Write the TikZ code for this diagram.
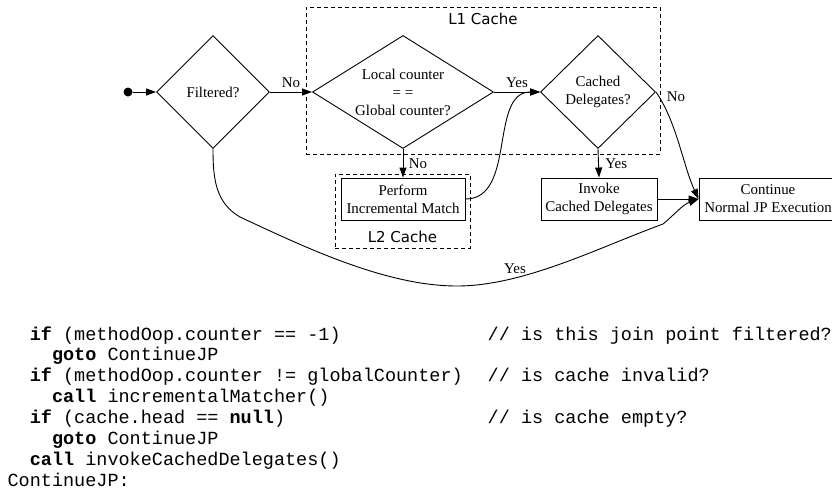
\documentclass[tikz,border=0pt]{standalone}
\usepackage{fontspec}
\setmainfont{Liberation Serif}
\setmonofont{Liberation Mono}
\newfontfamily\cachefont{DejaVu Sans}
\usetikzlibrary{shapes.geometric,arrows.meta}
\newcommand\dtext{\fontsize{14.9}{18}\selectfont}
\newcommand\codefont{\ttfamily\fontsize{18.5}{21}\selectfont}
\tikzset{
  dia/.style={diamond, draw, line width=0.9pt, inner sep=0pt, align=center, font=\dtext},
  procbox/.style={rectangle, draw, line width=0.9pt, inner sep=0pt, align=center, font=\dtext, minimum height=42pt},
  grp/.style={rectangle, draw, line width=0.9pt, dash pattern=on 4pt off 3pt},
  grplbl/.style={font=\cachefont\fontsize{15}{18}\selectfont, inner sep=0pt},
  lbl/.style={font=\dtext, inner sep=1.5pt},
  arr/.style={-{Triangle[length=10pt,width=7pt]}, line width=0.9pt},
  codeline/.style={anchor=base west, inner sep=0pt, font=\codefont},
}
\begin{document}
\begin{tikzpicture}[x=1pt,y=-1pt]
\useasboundingbox (0,0) rectangle (832,493);
% groups
\node[grp, minimum width=354pt, minimum height=147pt] (l1) at (483,80.5) {};
\node[grplbl] (l1lbl) at (483,18.5) {L1 Cache};
\node[grp, minimum width=135pt, minimum height=74pt] (l2) at (402.5,211) {};
\node[grplbl] (l2lbl) at (402.5,236.5) {L2 Cache};
% nodes
\node[circle, fill, inner sep=0pt, minimum size=9pt] (dot) at (128,92) {};
\node[dia, minimum width=113pt, minimum height=113pt] (filt) at (213,92) {Filtered?};
\node[dia, aspect=1.6, minimum width=181pt, minimum height=113pt] (loc) at (403,92) {Local counter\\= =\\Global counter?};
\node[dia, minimum width=115pt, minimum height=113pt] (cach) at (598,92) {Cached\\Delegates?};
\node[procbox, minimum width=124pt] (perf) at (403,199) {Perform\\Incremental Match};
\node[procbox, minimum width=116pt] (inv) at (599,199) {Invoke\\Cached Delegates};
\node[procbox, minimum width=138pt] (cont) at (768,199) {Continue\\Normal JP Execution};
\coordinate (b1) at (240,217);
\coordinate (ybot) at (457,286);
\coordinate (b2) at (663,224);
% connectors
\draw[arr] (dot) -- (filt.west);
\draw[arr] (filt.east) -- node[lbl, above, yshift=2pt] {No} (loc.west);
\draw[arr] (loc.east) -- node[lbl, above, yshift=2pt] {Yes} (cach.west);
\draw[arr] (loc.south) -- node[lbl, right, xshift=4pt] {No} (perf.north);
\draw[arr] (cach.south) -- node[lbl, right, xshift=5pt] {Yes} (inv.north);
\draw[arr] (perf.east) to[out=0,in=180] (cach.west);
\draw[arr] (cach.east) to[out=-55,in=115,looseness=0.8]
   node[lbl, at start, anchor=west, xshift=9pt, yshift=-5pt] {No} (cont.west);
\draw[arr] (inv.east) -- (cont.west);
\draw[arr] (filt.south) to[out=-90,in=150] (b1)
   to[out=-25,in=180,looseness=0.8] (ybot)
   to[out=0,in=200,looseness=0.8] node[lbl, pos=0.28, above, yshift=2pt] {Yes} (b2)
   to[out=40,in=200] (cont.west);
% code
\node[codeline] (c1) at (29.6,340) {\textbf{if} (methodOop.counter == -1)};
\node[codeline] (k1) at (487.5,340) {// is this join point filtered?};
\node[codeline] (c2) at (51.8,360.9) {\textbf{goto} ContinueJP};
\node[codeline] (c3) at (29.6,381.7) {\textbf{if} (methodOop.counter != globalCounter)};
\node[codeline] (k3) at (487.5,381.7) {// is cache invalid?};
\node[codeline] (c4) at (51.8,402.6) {\textbf{call} incrementalMatcher()};
\node[codeline] (c5) at (29.6,423.4) {\textbf{if} (cache.head == \textbf{null})};
\node[codeline] (k5) at (487.5,423.4) {// is cache empty?};
\node[codeline] (c6) at (51.8,444.3) {\textbf{goto} ContinueJP};
\node[codeline] (c7) at (29.6,465.2) {\textbf{call} invokeCachedDelegates()};
\node[codeline] (c8) at (7.4,486) {ContinueJP:};
\end{tikzpicture}
\end{document}
